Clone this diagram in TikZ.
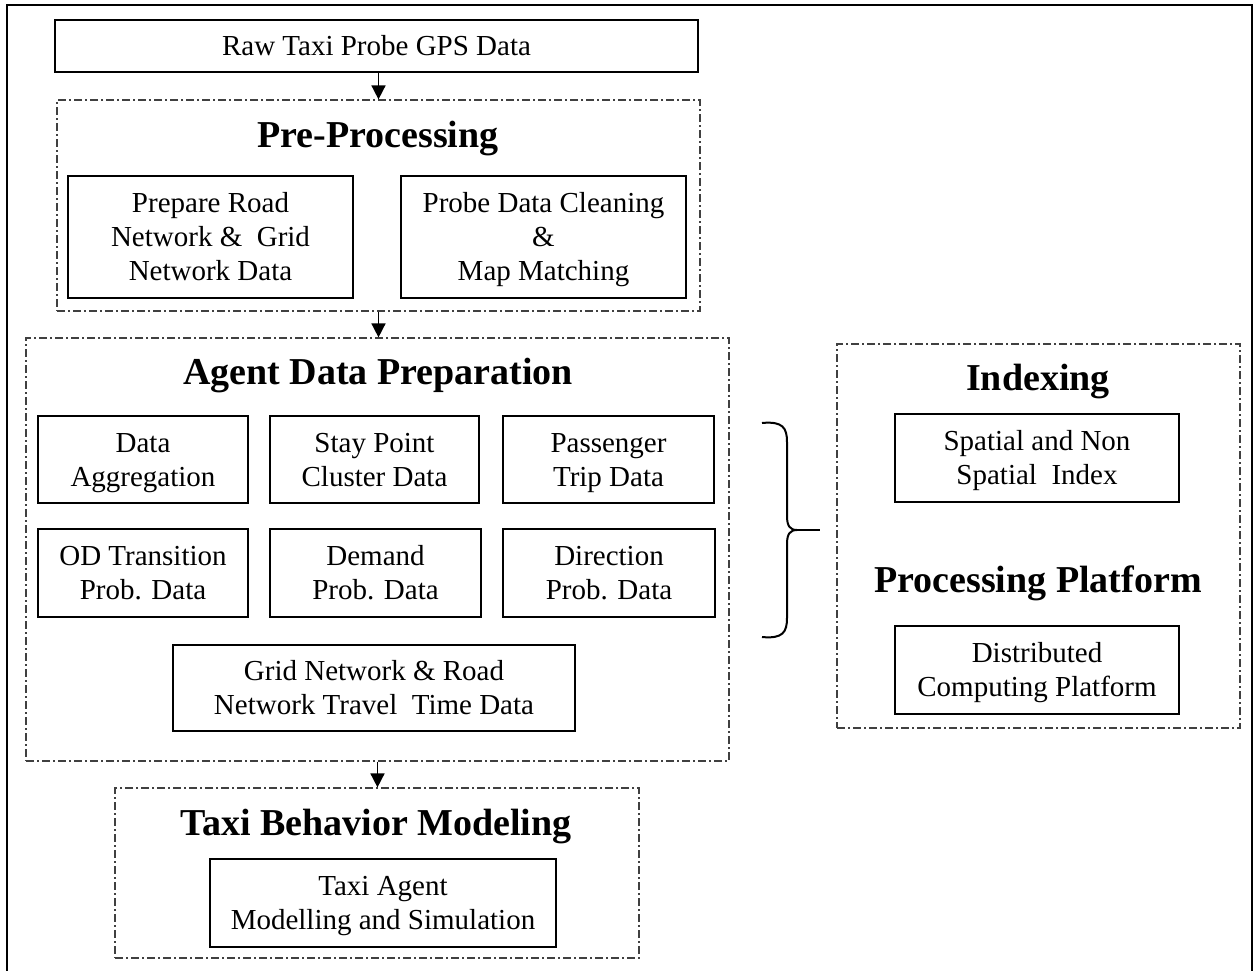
\documentclass[tikz,border=0pt]{standalone}
\usepackage{fontspec}
\setmainfont{Liberation Serif}
\usetikzlibrary{arrows.meta}
\newcommand{\mystrut}{\rule[-3.6pt]{0pt}{17pt}}
\newcommand{\nl}{\mystrut\\\mystrut}
\begin{document}
\begin{tikzpicture}[x=0.5pt,y=-0.5pt,
 box/.style={draw, line width=1.3pt, align=center, inner sep=0pt, font=\fontsize{14.5}{17}\selectfont, execute at begin node=\mystrut, execute at end node=\mystrut},
 grp/.style={draw=black!75, line width=0.6pt, dash pattern=on 4pt off 1.5pt on 1pt off 1.5pt, inner sep=0pt},
 ttl/.style={font=\fontsize{19}{22}\selectfont\bfseries, anchor=base, inner sep=0pt},
 arr/.style={line width=0.8pt, -{Triangle[width=7pt,length=7pt]}},
 sz/.style 2 args={minimum width=#1*0.5pt, minimum height=#2*0.5pt}]
\useasboundingbox (0,0) rectangle (1253,970);
% outer frame
\draw[line width=1.1pt] (7,990) -- (7,5) -- (1252,5) -- (1252,990);

% group frames
\node[grp, sz={643}{211}] (pre) at (378.5,205.5) {};
\node[grp, sz={703}{423}] (agent) at (377.5,549.5) {};
\node[grp, sz={403}{384}] (side) at (1038.5,536) {};
\node[grp, sz={524}{170}] (taxi) at (377,873) {};

% titles
\node[ttl] (preT) at (378,147) {Pre-Processing};
\node[ttl] (agentT) at (378,384) {Agent Data Preparation};
\node[ttl] (idxT) at (1038,390) {Indexing};
\node[ttl] (ppT) at (1038,592) {Processing Platform};
\node[ttl] (taxiT) at (376,835) {Taxi Behavior Modeling};

% boxes
\node[box, sz={643}{52}] (raw) at (376.5,46) {Raw Taxi Probe GPS Data};
\node[box, sz={285}{122}] (prep) at (210.5,237) {Prepare Road\nl Network \&\ \ Grid\nl Network Data};
\node[box, sz={285}{122}] (clean) at (543.5,237) {Probe Data Cleaning\nl\&\nl Map Matching};

\node[box, sz={210}{87}] (agg) at (143,459.5) {Data\nl Aggregation};
\node[box, sz={209}{87}] (stay) at (374.5,459.5) {Stay Point\nl Cluster Data};
\node[box, sz={211}{87}] (pass) at (608.5,459.5) {Passenger\nl Trip Data};
\node[box, sz={210}{88}] (od) at (143,573) {OD Transition\nl Prob. Data};
\node[box, sz={211}{88}] (dem) at (375.5,573) {Demand\nl Prob. Data};
\node[box, sz={212}{88}] (dir) at (609,573) {Direction\nl Prob. Data};
\node[box, sz={402}{86}] (grid) at (374,688) {Grid Network \& Road\nl Network Travel\ \ Time Data};

\node[box, sz={284}{88}] (spat) at (1037,458) {Spatial and Non\nl Spatial\ \ Index};
\node[box, sz={284}{88}] (dist) at (1037,670) {Distributed\nl Computing Platform};

\node[box, sz={346}{88}] (tam) at (383,903) {Taxi Agent\nl Modelling and Simulation};

% arrows
\draw[arr] (pre.north |- raw.south) -- (pre.north);
\draw[arr] (pre.south) -- (pre.south |- agent.north);
\draw[arr] (agent.south) -- (agent.south |- taxi.north);

% brace
\coordinate (btip) at (820,530);
\draw[line width=1pt] (762,423) .. controls (783,421) and (787,428) .. (787,442) -- (787,516)
  .. controls (787,526) and (790,530) .. (797,530)
  .. controls (790,530) and (787,534) .. (787,544) -- (787,618)
  .. controls (787,632) and (783,639) .. (762,637);
\draw[line width=1pt] (797,530) -- (btip);
\end{tikzpicture}
\end{document}
